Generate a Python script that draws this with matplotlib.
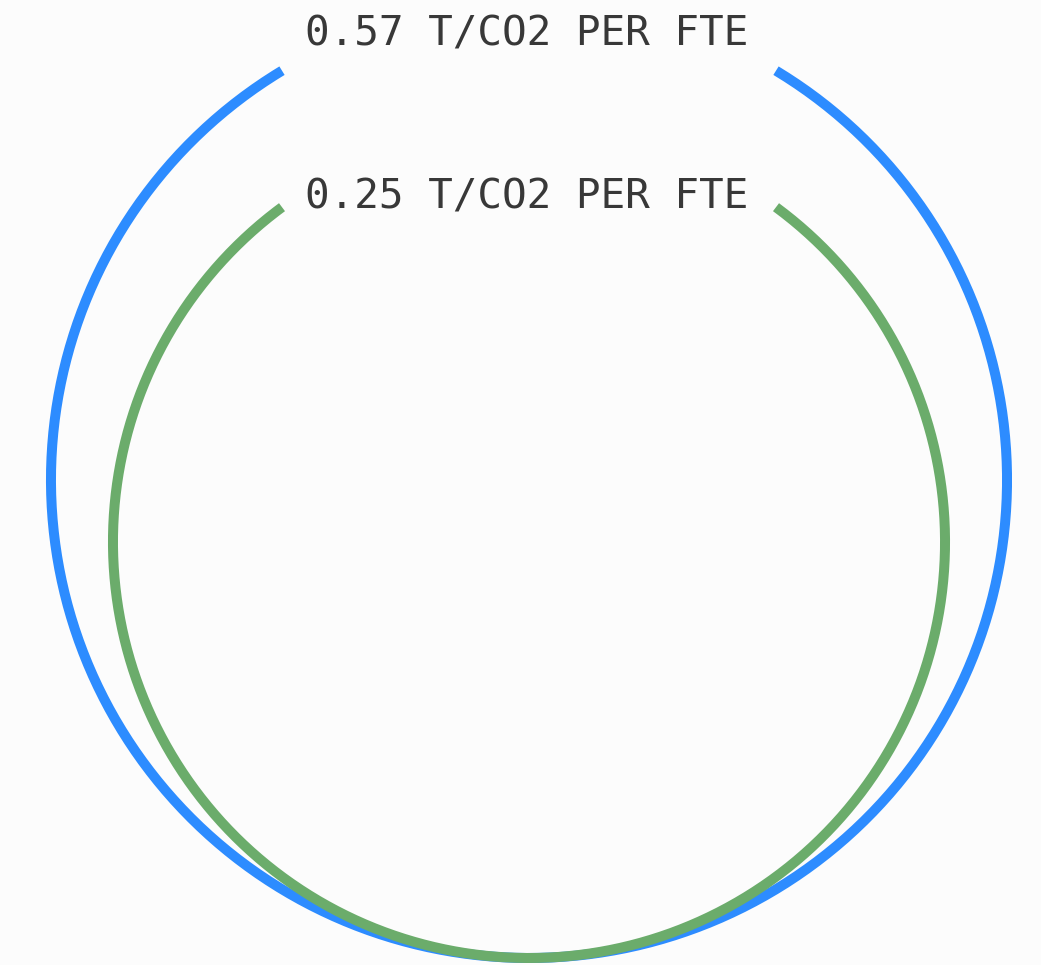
import matplotlib.pyplot as plt
import numpy as np

# emissions per FTE, one ring each
labels = ["0.57 T/CO2 PER FTE", "0.25 T/CO2 PER FTE"]
values = [0.57, 0.25]
colors = ["#2d8cff", "#6bac6b"]

W, H = 1041, 965
BOTTOM = 958          # both rings rest on this line
CX = 529
HALF_GAP = 247        # half width of the opening left for the label
LW = 10               # stroke width in px
LABEL_DROP = [33, 72] # label centre below the top of each ring (px)


def ring_radius(v):
    # linear value -> radius scale (px)
    return 367.6 + 193.75 * v


fig = plt.figure(figsize=(W / 100, H / 100), dpi=100, facecolor="#fcfcfc")
ax = fig.add_axes([0, 0, 1, 1])
ax.set_xlim(0, W)
ax.set_ylim(H, 0)
ax.axis("off")

for label, v, c, drop in zip(labels, values, colors, LABEL_DROP):
    r = ring_radius(v)
    cy = BOTTOM - r
    gap = np.arcsin(HALF_GAP / r)
    t = np.linspace(gap, 2 * np.pi - gap, 600)
    ax.plot(CX + r * np.sin(t), cy - r * np.cos(t), color=c,
            linewidth=LW * 72 / 100, solid_capstyle="butt")
    # label sits in the opening at the top of its ring
    ax.text(CX - 2, cy - r + drop, label, ha="center", va="center",
            family="DejaVu Sans Mono", fontsize=29.5, color="#383838")

fig.savefig("out.png", dpi=100, facecolor=fig.get_facecolor())
